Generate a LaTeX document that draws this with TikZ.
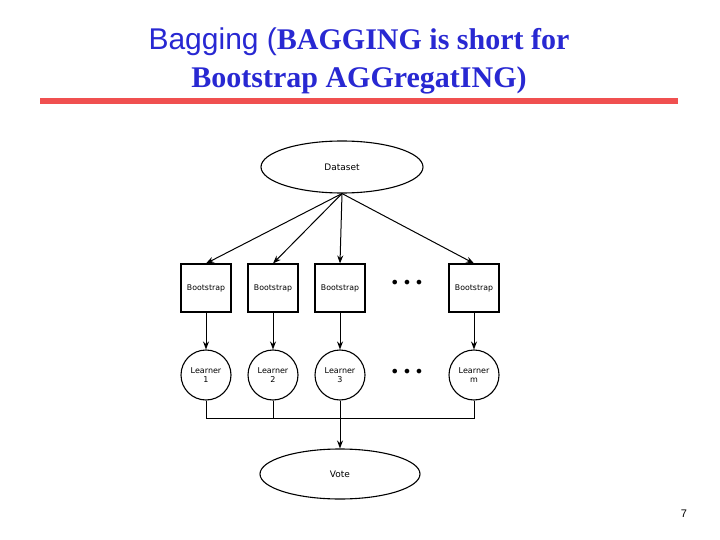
\documentclass[tikz,border=0pt]{standalone}
\usepackage{fontspec}
\setmainfont{Liberation Serif}
\setsansfont{Liberation Sans}
\newfontfamily\dv{DejaVu Sans}
\usetikzlibrary{shapes.geometric,arrows.meta}
\definecolor{tblue}{RGB}{40,40,210}
\definecolor{tred}{RGB}{240,80,80}
\begin{document}
\begin{tikzpicture}[x=1pt,y=-1pt,
  ell/.style={draw,ellipse,line width=1.1pt,minimum width=162pt,minimum height=52pt,font=\dv\fontsize{9}{10}\selectfont},
  bs/.style={draw,line width=1.1pt,minimum width=50pt,minimum height=48pt,inner sep=0pt,font=\dv\fontsize{7.8}{9}\selectfont},
  lr/.style={draw,circle,line width=1.1pt,minimum size=50pt,inner sep=0pt,align=center,font=\dv\fontsize{8}{9.5}\selectfont},
  arr/.style={-{Stealth[length=8pt,width=6pt]},line width=1pt},
  dots/.style={font=\dv\fontsize{16}{16}\selectfont}]
\useasboundingbox (0,0) rectangle (720,540);
\node[text=tblue,align=center,font=\fontsize{30}{38}\selectfont] (title) at (359,61)
  {{\sffamily Bagging (}\textbf{BAGGING is short for}\\\textbf{Bootstrap AGGregatING)}};
\draw[tred,line width=6pt] (40,101) -- (678,101);
\node[ell] (ds) at (342,167) {Dataset};
\node[lr] (l1) at (206,375) {Learner\\1};
\node[lr] (l2) at (273,375) {Learner\\2};
\node[lr] (l3) at (340,375) {Learner\\3};
\node[lr] (l4) at (474,375) {Learner\\m};
\foreach \n/\x in {1/206,2/273,3/340,4/474}{
  \node[bs] (b\n) at (\x,288) {Bootstrap};
  \draw[arr] (ds.south) -- (b\n.north);
  \draw[arr] (b\n) -- (l\n);
}
\node[dots] (d1) at (407,284) {•\,•\,•};
\node[dots] (d2) at (407,373) {•\,•\,•};
\coordinate (h1) at (206,418);
\coordinate (h4) at (474,418);
\draw[line width=1pt] (l1.south) -- (h1) -- (h4) -- (l4.south);
\draw[line width=1pt] (l2.south) -- (273,418);
\node[ell,minimum width=160pt,minimum height=50pt] (vote) at (340,474) {Vote};
\draw[arr] (l3.south) -- (vote.north);
\node[font=\sffamily\fontsize{11}{12}\selectfont] (pg) at (684,514) {7};
\end{tikzpicture}
\end{document}
